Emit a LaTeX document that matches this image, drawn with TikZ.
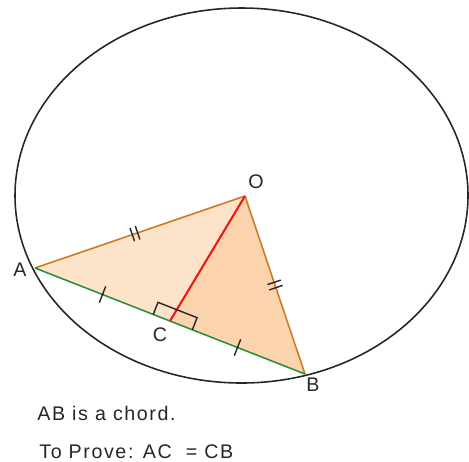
\documentclass[tikz,border=0pt]{standalone}
\usepackage{fontspec}
\setmainfont{Liberation Sans}
\newfontfamily\etiqueta[LetterSpace=8]{Liberation Sans}
\usetikzlibrary{calc,positioning}
\definecolor{duraznoclaro}{RGB}{253,227,202}
\definecolor{duraznooscuro}{RGB}{251,211,172}
\definecolor{naranjalado}{RGB}{206,122,32}
\definecolor{verdecuerda}{RGB}{44,142,64}
\definecolor{rojoaltura}{RGB}{238,24,24}

\begin{document}
\begin{tikzpicture}[x=0.02cm, y=-0.02cm,
    lado/.style={draw=naranjalado, line width=0.9pt},
    cuerda/.style={draw=verdecuerda, line width=0.9pt},
    altura/.style={draw=rojoaltura, line width=1.2pt},
    marca/.style={draw=black!85, line width=0.8pt},
    letra/.style={font=\etiqueta\fontsize{11.2}{13}\selectfont, text=black!85, inner sep=0pt}
  ]
    \useasboundingbox (0,0) rectangle (469,461);

    % puntos
    \coordinate (O) at (245,196);
    \coordinate (A) at (35,268);
    \coordinate (B) at (305,374);
    \coordinate (C) at ($(A)!0.5!(B)$);

    % triangulos
    \fill[duraznoclaro] (A) -- (O) -- (C) -- cycle;
    \fill[duraznooscuro] (C) -- (O) -- (B) -- cycle;

    % circunferencia
    \draw[line width=0.9pt, black!85] (241.5,195.5) ellipse [x radius=226.5, y radius=187.5];

    \draw[lado] (A) -- (O);
    \draw[lado] (O) -- (B);
    \draw[cuerda] (A) -- (B);
    \draw[altura] (O) -- (C);

    % angulo recto
    \coordinate (r1) at ($(C)!0.36cm!(A)$);
    \coordinate (r2) at ($(C)!0.48cm!(B)$);
    \draw[marca] (r1) -- ($(r1)!0.26cm!90:(C)$) -- ($(r2)!0.26cm!-90:(C)$) -- (r2);

    % marcas simples
    \foreach \p in {0.25,0.75}{
      \coordinate (m) at ($(A)!\p!(B)$);
      \draw[marca] ($(m)!5pt!90:(B)$) -- ($(m)!5pt!-90:(B)$);
    }
    % marcas dobles
    \coordinate (m1) at ($(A)!0.476!(O)$);
    \coordinate (m2) at ($(O)!0.5!(B)$);
    \foreach \d in {-1.6pt,1.6pt}{
      \coordinate (q) at ($(m1)!\d!(O)$);
      \draw[marca] ($(q)!4pt!90:(O)$) -- ($(q)!4pt!-90:(O)$);
      \coordinate (q) at ($(m2)!\d!(B)$);
      \draw[marca] ($(q)!4pt!90:(B)$) -- ($(q)!4pt!-90:(B)$);
    }

    % etiquetas
    \node[letra] (etO) at (256,182) {O};
    \node[letra] (etA) at (20,270) {A};
    \node[letra] (etC) at (160,335) {C};
    \node[letra] (etB) at (313,385) {B};

    \node[letra, anchor=west] (linea1) at (37,413) {AB is a chord.};
    \node[letra, anchor=west] (linea2) at (39,452) {To Prove: AC\ \ = CB};
  \end{tikzpicture}
\end{document}
